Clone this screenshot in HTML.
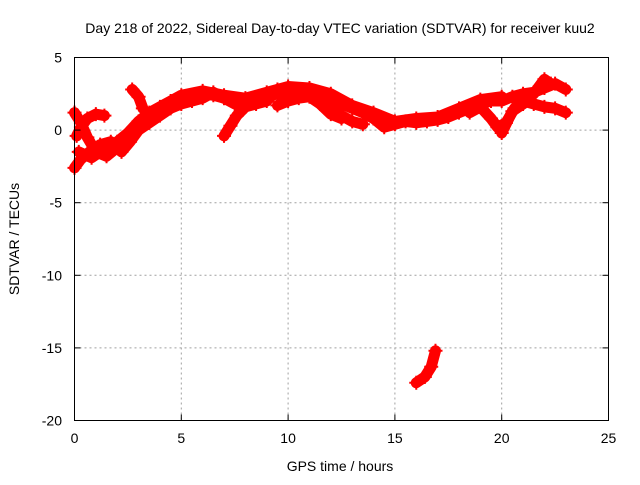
<!DOCTYPE html>
<html><head><meta charset="utf-8"><style>
body{margin:0;background:#fff;font-family:"Liberation Sans",sans-serif}
svg text{font-family:"Liberation Sans",sans-serif;font-size:14px;fill:#000}
</style></head><body>
<svg id="chart" width="640" height="480" xmlns="http://www.w3.org/2000/svg">
<rect width="640" height="480" fill="#fff"/>
<text x="340" y="33" text-anchor="middle">Day 218 of 2022, Sidereal Day-to-day VTEC variation (SDTVAR) for receiver kuu2</text>
<text x="340" y="471" text-anchor="middle">GPS time / hours</text>
<text transform="translate(19,239) rotate(-90)" text-anchor="middle">SDTVAR / TECUs</text>
<g id="grid"></g>
<g id="marks"></g>
<rect x="74.5" y="57.5" width="534" height="363" fill="none" stroke="#000"/>
<g id="ticks"></g>
</svg>
<script>
const xTicks=[0,5,10,15,20,25];
const yTicks=[5,0,-5,-10,-15,-20];
const track1T=[0,0.3,0.6,1,1.5,2,2.5,3,3.5,4,4.5,5,5.5,6,6.5,7,7.5,8,8.5,9,9.5,10,10.5,11,11.5,12,12.5,13,13.5,14,14.5,15,15.5,16,16.5,17,17.5,18,18.5,19,19.5,20,20.5,21,21.5,22,22.5,23];
const track1V=[1.2,0.5,-0.5,-1.5,-1.8,-1.2,-0.5,0.3,0.8,1.2,1.8,2.2,2.3,2.5,2.4,2.2,2,1.8,2,2.3,2.5,2.6,2.5,2.4,2.2,2,1.8,1.5,1.2,0.8,0.2,0.4,0.6,0.5,0.6,0.7,0.9,1.2,1.5,1.8,2,2,2.3,2.5,2.6,2.9,3.2,2.8];
const track2T=[0,0.3,0.7,1.2,1.7,2.2,2.6,3,3.5,4,4.5,5,5.5,6,6.5,7,7.5,8];
const track2V=[-2.6,-2,-1.5,-1,-0.8,-1.5,-0.8,0,0.5,1,1.5,1.8,2,2.2,2.6,2.2,1.8,1.6];
const track3T=[7,7.3,7.6,8,8.5,9,9.5,10,10.5,11,11.5,12,12.5,13,13.5];
const track3V=[-0.4,0.3,1,1.6,1.8,2,2.8,2.9,2.8,2.6,2.2,1.5,1,0.6,0.4];
const track4T=[0.1,0.3,0.6,1,1.4];
const track4V=[-0.4,0.2,0.8,1.1,1.0];
const track5T=[2.7,3,3.2];
const track5V=[2.8,2.3,1.5];
const track6T=[18.5,19,19.5,19.8,20.2,20.6,21,21.5,22,22.5,23];
const track6V=[1.2,1.6,0.8,0.2,0.5,1.5,2,1.8,1.6,1.5,1.2];
const track7T=[16,16.4,16.7,16.9];
const track7V=[-17.4,-17,-16.3,-15.2];
const track8T=[9.5,10,10.5,11,11.5,12,12.5];
const track8V=[1.7,2,2.2,2.3,1.8,1.1,0.8];
const track9T=[20,20.5,21,21.5,22,22.3];
const track9V=[-0.2,1.3,1.8,2.5,3.5,3.2];
const track10T=[0.2,0.8,1.5,2,2.5,3,3.5,4,4.5,5,6,7,8,9,10,11,12,13,14,15,16,17,18,19,20];
const track10V=[-1.5,-1.9,-1.2,-0.8,-0.2,0.6,1.2,1.6,2,2.4,2.7,2.4,2.2,2.6,3,2.9,2.5,1.7,1.2,0.6,0.8,0.9,1.5,2.1,2.3];
const tracks=[[track1T,track1V],[track2T,track2V],[track3T,track3V],[track4T,track4V],[track5T,track5V],[track6T,track6V],[track7T,track7V],[track8T,track8V],[track9T,track9V],[track10T,track10V]];
const X0=74.5,X1=608.5,Y0=420.5,Y1=57.5;
const xs=v=>X0+(v-0)/25*(X1-X0);
const ys=v=>Y0-(v+20)/25*(Y0-Y1);
const NS="http://www.w3.org/2000/svg";
const grid=document.getElementById('grid'),ticks=document.getElementById('ticks'),marks=document.getElementById('marks');
function mk(tag,at,parent){const e=document.createElementNS(NS,tag);for(const k in at)e.setAttribute(k,at[k]);parent.appendChild(e);return e;}
xTicks.forEach(t=>{const x=xs(t);
 if(t>0&&t<25){const g=mk('line',{x1:x,x2:x,y1:Y1,y2:Y0,stroke:'#a0a0a0','stroke-dasharray':'2,3'},grid);}
 const a=mk('line',{x1:x,x2:x,y1:Y0,y2:Y0-6,stroke:'#000'},ticks);
 const b=mk('line',{x1:x,x2:x,y1:Y1,y2:Y1+6,stroke:'#000'},ticks);
 const l=mk('text',{x:x,y:443,'text-anchor':'middle'},ticks);l.textContent=t;});
yTicks.forEach(t=>{const y=ys(t);
 if(t>-20&&t<5){const g=mk('line',{x1:X0,x2:X1,y1:y,y2:y,stroke:'#a0a0a0','stroke-dasharray':'2,3'},grid);}
 const a=mk('line',{x1:X0,x2:X0+6,y1:y,y2:y,stroke:'#000'},ticks);
 const b=mk('line',{x1:X1,x2:X1-6,y1:y,y2:y,stroke:'#000'},ticks);
 const l=mk('text',{x:62,y:y+5,'text-anchor':'end'},ticks);l.textContent=t;});
tracks.forEach(([T,V])=>{
 const p=mk('polyline',{points:T.map((t,i)=>xs(t)+','+ys(V[i])).join(' '),fill:'none',stroke:'#ff0000','stroke-width':11,'stroke-linejoin':'round','stroke-linecap':'round'},marks);
 
 
 T.forEach((t,i)=>{const x=xs(t),y=ys(V[i]);
  const m=mk('path',{d:`M${x-7},${y}H${x+7}M${x},${y-7}V${y+7}`,stroke:'#ff0000','stroke-width':2},marks);
  
  });
});
</script>
</body></html>
